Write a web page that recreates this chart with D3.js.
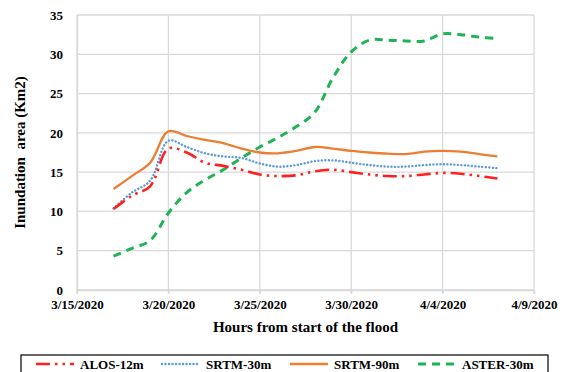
<!DOCTYPE HTML>
<html lang="en">
  <head>
    <meta charset="utf-8">
    <style>
      body{ margin:0; background:#fff; }
      svg text{ font-family: "Liberation Serif", "DejaVu Serif", serif !important; font-weight: bold; fill:#000; }
      .grid line{ stroke:#d9d9d9; stroke-width:1.3px; }
      .series{ fill:none; }
    </style>
  </head>
  <body>
    <script src="https://d3js.org/d3.v7.min.js"></script>
    <script>

      // Daily observations, 3/17/2020 .. 4/7/2020
      var dates = ["3/17/2020","3/18/2020","3/19/2020","3/20/2020","3/21/2020","3/22/2020",
		   "3/23/2020","3/24/2020","3/25/2020","3/26/2020","3/27/2020","3/28/2020",
		   "3/29/2020","3/30/2020","3/31/2020","4/1/2020","4/2/2020","4/3/2020",
		   "4/4/2020","4/5/2020","4/6/2020","4/7/2020"];

      var alos12 = [10.3,12.0,13.2,18.0,17.5,16.2,15.8,15.3,14.7,14.5,14.6,15.1,
		    15.3,15.0,14.7,14.5,14.5,14.7,14.9,14.8,14.5,14.2];
      var srtm30 = [10.4,12.4,13.9,19.0,18.2,17.4,17.0,16.8,16.1,15.7,15.9,16.4,
		    16.5,16.2,15.9,15.7,15.7,15.9,16.0,15.9,15.7,15.5];
      var srtm90 = [12.85,14.5,16.2,20.2,19.6,19.1,18.7,18.0,17.5,17.4,17.7,18.2,
		    18.0,17.7,17.5,17.35,17.3,17.6,17.7,17.6,17.3,17.0];
      var aster30 = [4.3,5.3,6.3,9.8,12.4,14.0,15.3,16.8,18.2,19.4,20.8,22.6,
		     27.0,30.3,31.8,31.8,31.7,31.7,32.6,32.5,32.2,32.0];

      var xTickLabels = ["3/15/2020","3/20/2020","3/25/2020","3/30/2020","4/4/2020","4/9/2020"];
      var yTicks = [0,5,10,15,20,25,30,35];

      var seriesNames = ["ALOS-12m","SRTM-30m","SRTM-90m","ASTER-30m"];
      var seriesValues = [alos12, srtm30, srtm90, aster30];
      var seriesStyle = [
	  {color:"#ff1f1f", width:2.6, dash:"14,5,2.5,5,2.5,5", cap:"butt"},
	  {color:"#5b9bd5", width:2.4, dash:"0.1,3.4", cap:"round"},
	  {color:"#ed7d31", width:2.3, dash:null, cap:"butt"},
	  {color:"#1fb356", width:3, dash:"8,6", cap:"butt"}
      ];

      var W = 568, H = 372;
      var plot = {left:77, right:534, top:15, bottom:290};
      var serif = "'Liberation Serif', 'DejaVu Serif', serif";

      var parse = d3.timeParse("%m/%d/%Y");
      var fmt = d3.timeFormat("%-m/%-d/%Y");

      var svg = d3.select("body").append("svg")
	  .attr("width", W)
	  .attr("height", H)
	  .attr("font-family", serif);

      var x = d3.scaleTime()
	  .domain([parse(xTickLabels[0]), parse(xTickLabels[xTickLabels.length-1])])
	  .range([plot.left, plot.right]);

      var y = d3.scaleLinear()
	  .domain([0, 35])
	  .range([plot.bottom, plot.top]);

      var xTicks = xTickLabels.map(parse);

      //******GRID******
      var grid = svg.append("g").attr("class", "grid");
      grid.selectAll("line.h")
	  .data(yTicks)
	  .enter().append("line")
	  .attr("class", "h")
	  .attr("x1", plot.left).attr("x2", plot.right)
	  .attr("y1", function(d){ return y(d); })
	  .attr("y2", function(d){ return y(d); });

      grid.selectAll("line.v")
	  .data(xTicks)
	  .enter().append("line")
	  .attr("class", "v")
	  .attr("x1", function(d){ return x(d); })
	  .attr("x2", function(d){ return x(d); })
	  .attr("y1", plot.top)
	  .attr("y2", plot.bottom + 4);

      //******AXES******
      var xAxis = svg.append("g")
	  .attr("transform", "translate(0," + plot.bottom + ")")
	  .call(d3.axisBottom(x).tickValues(xTicks).tickFormat(fmt).tickSize(4).tickPadding(6));
      xAxis.attr("font-family", serif);
      xAxis.select(".domain").attr("stroke", "#d9d9d9").attr("stroke-width", 1.3);
      xAxis.selectAll(".tick line").attr("stroke", "#d9d9d9").attr("stroke-width", 1.3);
      xAxis.selectAll(".tick text")
	  .attr("font-size", "13px")
	  .style("font-family", serif);

      var yAxis = svg.append("g")
	  .attr("transform", "translate(" + plot.left + ",0)")
	  .call(d3.axisLeft(y).tickValues(yTicks).tickSize(0).tickPadding(14));
      yAxis.attr("font-family", serif);
      yAxis.select(".domain").attr("stroke", "#d9d9d9").attr("stroke-width", 1.3);
      yAxis.selectAll(".tick text")
	  .attr("font-size", "13px")
	  .style("font-family", serif);

      //axis titles
      svg.append("text")
	  .attr("x", (plot.left + plot.right)/2)
	  .attr("y", 332)
	  .attr("text-anchor", "middle")
	  .attr("font-size", "15px")
	  .style("font-family", serif)
	  .text("Hours from start of the flood");

      svg.append("text")
	  .attr("transform", "translate(25," + (plot.top + plot.bottom)/2 + ") rotate(-90)")
	  .attr("text-anchor", "middle")
	  .attr("font-size", "15px")
	  .style("font-family", serif)
	  .style("white-space", "pre")
	  .text("Inundation  area (Km2)");

      //******SERIES******
      var line = d3.line()
	  .x(function(d){ return x(d.date); })
	  .y(function(d){ return y(d.value); })
	  .curve(d3.curveCatmullRom.alpha(0.5));

      var order = [3, 2, 1, 0];
      order.forEach(function(i){
	  var pts = dates.map(function(dt, k){ return {date: parse(dt), value: seriesValues[i][k]}; });
	  var s = seriesStyle[i];
	  svg.append("path")
	      .datum(pts)
	      .attr("class", "series")
	      .attr("d", line)
	      .attr("stroke", s.color)
	      .attr("stroke-width", s.width)
	      .attr("stroke-linecap", s.cap)
	      .attr("stroke-dasharray", s.dash);
      });

      //******LEGEND******
      svg.append("rect")
	  .attr("x", 21).attr("y", 355)
	  .attr("width", 527).attr("height", 40)
	  .attr("fill", "none")
	  .attr("stroke", "#000")
	  .attr("stroke-width", 1.2);

      var legendX = [36, 162, 290, 418];
      seriesNames.forEach(function(name, i){
	  var s = seriesStyle[i];
	  var g = svg.append("g").attr("transform", "translate(" + legendX[i] + ",364)");
	  g.append("line")
	      .attr("x1", 0).attr("x2", 38)
	      .attr("y1", 0).attr("y2", 0)
	      .attr("stroke", s.color)
	      .attr("stroke-width", s.width)
	      .attr("stroke-linecap", s.cap)
	      .attr("stroke-dasharray", s.dash);
	  g.append("text")
	      .attr("x", 44)
	      .attr("dy", "0.35em")
	      .attr("font-size", "13px")
	      .style("font-family", serif)
	      .text(name);
      });
    </script>
  </body>
</html>
